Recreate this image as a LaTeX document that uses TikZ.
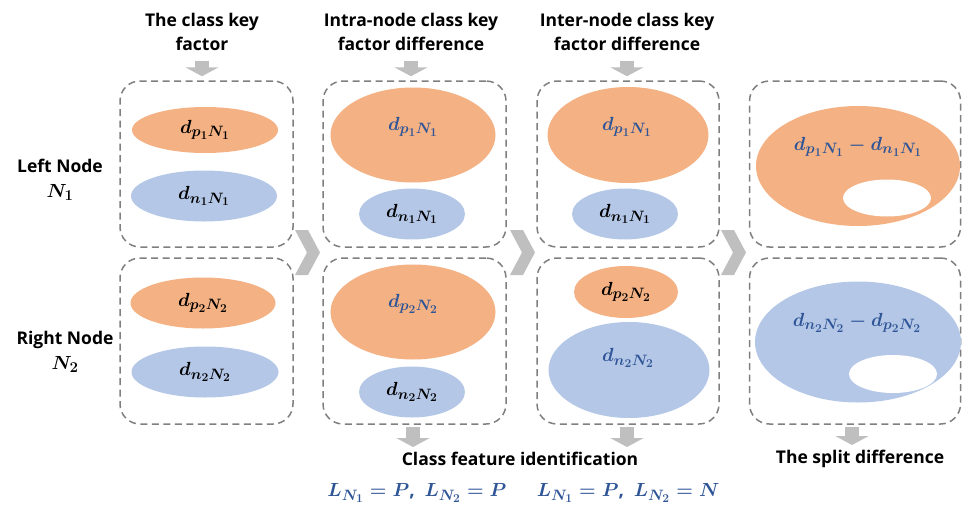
\RequirePackage{fix-cm}
\documentclass[tikz,border=0pt]{standalone}
\usepackage{fontspec}
\setmainfont{Open Sans}
\usepackage{amsmath}
\DeclareMathSizes{19}{19}{15}{12}
\DeclareMathSizes{17.5}{19}{15}{12}
\usetikzlibrary{shapes.geometric,arrows.meta}
\definecolor{orng}{HTML}{F4B183}
\definecolor{lblue}{HTML}{B4C7E7}
\definecolor{tblue}{HTML}{2F5597}
\definecolor{dgray}{HTML}{7F7F7F}
\definecolor{agray}{HTML}{BFBFBF}
\begin{document}
\begin{tikzpicture}[x=1pt,y=-1pt,
  box/.style={draw=dgray, line width=1.5pt, dash pattern=on 7pt off 4.5pt, rounded corners=20pt, minimum height=166pt, inner sep=0pt},
  ell/.style={ellipse, inner sep=0pt, draw=none},
  mtxt/.style={inner sep=0pt, font=\fontsize{19}{22}\selectfont\boldmath},
  ttl/.style={inner sep=0pt, align=center, font=\fontsize{17.5}{24}\selectfont\bfseries\boldmath},
  blockarr/.style={draw=agray, line width=14pt, -{Triangle[width=33pt,length=9pt]}},
]
\useasboundingbox (0,0) rectangle (962,509);

% boxes
\node[box, minimum width=173pt] (b1t) at (206.5,164) {};
\node[box, minimum width=173pt] (b1b) at (206.5,341) {};
\node[box, minimum width=183pt] (b2t) at (414.5,164) {};
\node[box, minimum width=183pt] (b2b) at (414.5,341) {};
\node[box, minimum width=182pt] (b3t) at (628,164) {};
\node[box, minimum width=182pt] (b3b) at (628,341) {};
\node[box, minimum width=211pt] (b4t) at (855,164) {};
\node[box, minimum width=211pt] (b4b) at (855,341) {};

% column 1
\node[ell, fill=orng, minimum width=146pt, minimum height=46pt] (c1a) at (205,130) {};
\node[mtxt] (c1at) at (205,130) {$d_{p_1N_1}$};
\node[ell, fill=lblue, minimum width=146pt, minimum height=51pt] (c1b) at (204,196) {};
\node[mtxt] (c1bt) at (204,196) {$d_{n_1N_1}$};
\node[ell, fill=orng, minimum width=145pt, minimum height=51pt] (c1c) at (203,303) {};
\node[mtxt] (c1ct) at (203,303) {$d_{p_2N_2}$};
\node[ell, fill=lblue, minimum width=147pt, minimum height=51pt] (c1d) at (205,372) {};
\node[mtxt] (c1dt) at (205,372) {$d_{n_2N_2}$};

% column 2
\node[ell, fill=orng, minimum width=165pt, minimum height=95pt] (c2a) at (413,135) {};
\node[mtxt, text=tblue] (c2at) at (413,127) {$d_{p_1N_1}$};
\node[ell, fill=lblue, minimum width=106pt, minimum height=51pt] (c2b) at (412,214) {};
\node[mtxt] (c2bt) at (412,214) {$d_{n_1N_1}$};
\node[ell, fill=orng, minimum width=165pt, minimum height=95pt] (c2c) at (413,312) {};
\node[mtxt, text=tblue] (c2ct) at (413,304) {$d_{p_2N_2}$};
\node[ell, fill=lblue, minimum width=106pt, minimum height=51pt] (c2d) at (412,392) {};
\node[mtxt] (c2dt) at (412,392) {$d_{n_2N_2}$};

% column 3
\node[ell, fill=orng, minimum width=161pt, minimum height=96pt] (c3a) at (628,135) {};
\node[mtxt, text=tblue] (c3at) at (627,127) {$d_{p_1N_1}$};
\node[ell, fill=lblue, minimum width=106pt, minimum height=51pt] (c3b) at (625,214) {};
\node[mtxt] (c3bt) at (625,214) {$d_{n_1N_1}$};
\node[ell, fill=orng, minimum width=104pt, minimum height=52pt] (c3c) at (626,292) {};
\node[mtxt] (c3ct) at (626,292) {$d_{p_2N_2}$};
\node[ell, fill=lblue, minimum width=161pt, minimum height=96pt] (c3d) at (629,370) {};
\node[mtxt, text=tblue] (c3dt) at (628,358) {$d_{n_2N_2}$};

% column 4
\node[ell, fill=orng, minimum width=204pt, minimum height=120pt] (c4a) at (858,166) {};
\node[ell, fill=white, minimum width=88pt, minimum height=37pt] (h4a) at (887,198) {};
\node[mtxt, text=tblue] (c4at) at (858,147) {$d_{p_1N_1}-d_{n_1N_1}$};
\node[ell, fill=lblue, minimum width=206pt, minimum height=121pt] (c4b) at (858,342) {};
\node[ell, fill=white, minimum width=88pt, minimum height=38pt] (h4b) at (893,374) {};
\node[mtxt, text=tblue] (c4bt) at (857,323) {$d_{n_2N_2}-d_{p_2N_2}$};

% chevrons
\foreach \cx in {295,510,721}{
  \fill[agray] (\cx,230) -- ++(13,0) -- ++(12,22.5) -- ++(-12,22.5) -- ++(-13,0) -- ++(12,-22.5) -- cycle;
}

% left labels
\node[ttl] (ln) at (60,180) {Left Node\\[1pt]$N_1$};
\node[ttl] (rn) at (65,352) {Right Node\\[1pt]$N_2$};

% titles
\node[ttl] (t1) at (202,32) {The class key\\factor};
\node[ttl] (t2) at (411,32) {Intra-node class key\\factor difference};
\node[ttl] (t3) at (627,32) {Inter-node class key\\factor difference};

\draw[blockarr, shorten <=10pt, shorten >=4pt] (t1.south) -- (t1.south |- b1t.north);
\draw[blockarr, shorten <=10pt, shorten >=4pt] (t2.south) -- (t2.south |- b2t.north);
\draw[blockarr, shorten <=10pt, shorten >=4pt] (t3.south) -- (t3.south |- b3t.north);

% bottom labels
\node[ttl] (cfi) at (520,459) {Class feature identification};
\node[ttl] (tsd) at (860,459) {The split difference};
\coordinate (a2) at (413,424);
\coordinate (a3) at (627,424);
\coordinate (a4) at (852,424);
\draw[blockarr, shorten <=3pt, shorten >=5pt] (a2) -- (a2 |- cfi.north);
\draw[blockarr, shorten <=3pt, shorten >=5pt] (a3) -- (a3 |- cfi.north);
\draw[blockarr, shorten <=3pt, shorten >=5pt] (a4) -- (a4 |- tsd.north);

\node[mtxt, text=tblue] (f1) at (417,493) {$L_{N_1}=P\text{\bfseries,}\;\, L_{N_2}=P$};
\node[mtxt, text=tblue] (f2) at (628,493) {$L_{N_1}=P\text{\bfseries,}\;\, L_{N_2}=N$};
\end{tikzpicture}
\end{document}
